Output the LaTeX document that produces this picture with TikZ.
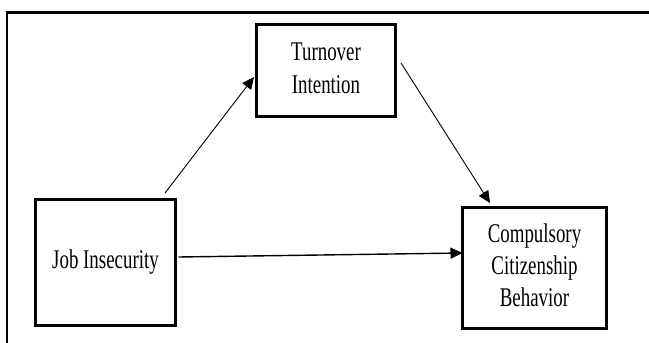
\documentclass[tikz,border=0pt]{standalone}
\usepackage{fontspec}
\setmainfont{Liberation Serif}
\usetikzlibrary{arrows.meta,calc}

% narrow serif lettering for the box labels
\newcommand\boxlabel[1]{\scalebox{0.7}[1]{\begin{tabular}{@{}c@{}}#1\end{tabular}}}

\begin{document}
\begin{tikzpicture}[x=1pt,y=-1pt,
  varbox/.style={draw, line width=3pt, inner sep=0pt, align=center,
    font=\fontsize{27}{32}\selectfont},
  link/.style={line width=0.9pt, -{Triangle[length=12pt,width=11pt]}}]
  \useasboundingbox (0,0) rectangle (649,343);
  \clip (0,0) rectangle (649,343);
  \fill[white] (0,0) rectangle (649,343);

  % outer frame (runs past the right and bottom edges)
  \draw[line width=2.5pt] (7,360) -- (7,12.5) -- (670,12.5);

  % variables
  \node[varbox, minimum width=139pt, minimum height=92pt] (ti) at (326,70.5)
    {\boxlabel{Turnover\\[1pt]Intention}};
  \node[varbox, minimum width=140pt, minimum height=126pt] (ji) at (105.5,262.5)
    {\boxlabel{Job Insecurity}};
  \node[varbox, minimum width=144pt, minimum height=121pt] (ccb) at (534.5,268)
    {\boxlabel{Compulsory\\Citizenship\\Behavior}};

  % paths
  \coordinate (a1) at ($(ji.north)+(59.5,-5)$);
  \coordinate (a2) at ($(ti.west)+(-1,6.5)$);
  \draw[link] (a1) -- (a2);

  \coordinate (b1) at ($(ti.east)+(4,-7.5)$);
  \coordinate (b2) at ($(ccb.north)+(-44.5,-3)$);
  \draw[link] (b1) -- (b2);

  \coordinate (c1) at ($(ji.east)+(1.5,-5.5)$);
  \coordinate (c2) at ($(ccb.west)+(1.5,-15)$);
  \draw[link, line width=1.4pt] (c1) -- (c2);
\end{tikzpicture}
\end{document}
